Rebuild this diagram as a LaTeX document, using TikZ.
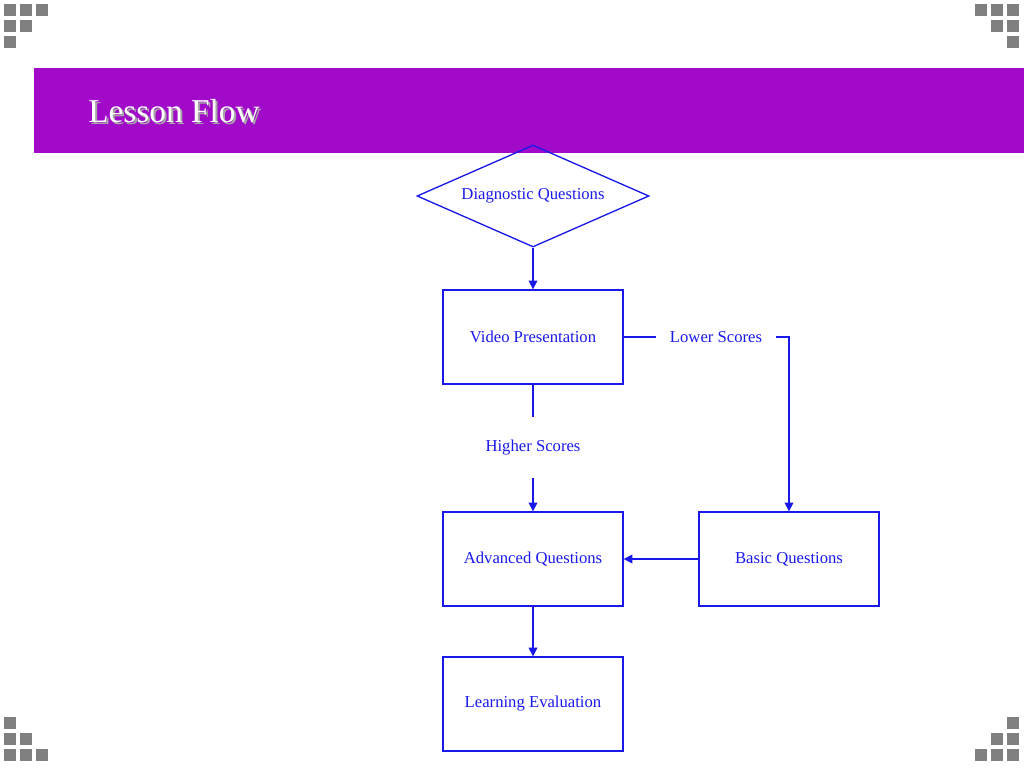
\documentclass[tikz,border=0pt]{standalone}
\usepackage{fontspec}
\setmainfont{Liberation Serif}
\usetikzlibrary{shapes.geometric,arrows.meta}
\definecolor{barpurple}{RGB}{160,10,200}
\definecolor{flowblue}{RGB}{25,25,235}
\definecolor{tilegray}{RGB}{128,128,128}
\tikzset{
>={Triangle[length=6.5pt,width=6.5pt]},
  flowbox/.style={
    rectangle,
    draw=flowblue, line width=1pt,
    minimum width=135pt,
    minimum height=70.5pt,
    text=flowblue,
    font=\fontsize{12.5}{15}\selectfont,
    text centered},
  decision/.style={
    diamond,
    aspect=2.27,
    draw=flowblue, line width=1pt,
    minimum width=174pt,
    minimum height=76.5pt,
    inner sep=0pt,
    text=flowblue,
    font=\fontsize{12.5}{15}\selectfont},
  branch/.style={
    text=flowblue,
    inner sep=0pt,
    font=\fontsize{12.5}{15}\selectfont},
  flowline/.style={draw=flowblue, line width=1pt},
  tile/.style={fill=tilegray},
}

\begin{document}
\begin{tikzpicture}
  [x=0.75pt, y=-0.75pt]
  \useasboundingbox (0,0) rectangle (1024,768);
  %% corner tiles
  \foreach \tx/\ty in {4/4,20/4,36/4,4/20,20/20,4/36,
    975/4,991/4,1007/4,991/20,1007/20,1007/36,
    4/717,4/733,20/733,4/749,20/749,36/749,
    1007/717,991/733,1007/733,975/749,991/749,1007/749}
    \fill[tile] (\tx,\ty) rectangle ++(12,12);
  %% title bar
  \fill[barpurple] (34,68) rectangle (1024,153);
  \node[anchor=base west, inner sep=0pt, text=gray!70,
    font=\fontsize{25}{30}\selectfont] (titleshadow) at (90,124) {Lesson Flow};
  \node[anchor=base west, inner sep=0pt, text=white,
    font=\fontsize{25}{30}\selectfont] (title) at (88,122) {Lesson Flow};
  %% flow
  \node[decision] (diag) at (533,196) {Diagnostic Questions};
  \node[flowbox] (video) at (533,337) {Video Presentation};
  \node[branch, minimum width=89.25pt] (lower) at (716,337) {Lower Scores};
  \node[branch, minimum height=45.75pt] (higher) at (533,447.5) {Higher Scores};
  \node[flowbox] (adv) at (533,559) {Advanced Questions};
  \node[flowbox] (basic) at (789,559) {Basic Questions};
  \node[flowbox] (learn) at (533,704) {Learning Evaluation};
  %% connectors
  \draw[flowline, ->] (diag.south) -- (video.north);
  \draw[flowline] (video.east) -- (lower.west);
  \draw[flowline, ->] (lower.east) -| (basic.north);
  \draw[flowline] (video.south) -- (higher.north);
  \draw[flowline, ->] (higher.south) -- (adv.north);
  \draw[flowline, ->] (basic.west) -- (adv.east);
  \draw[flowline, ->] (adv.south) -- (learn.north);
\end{tikzpicture}
\end{document}
